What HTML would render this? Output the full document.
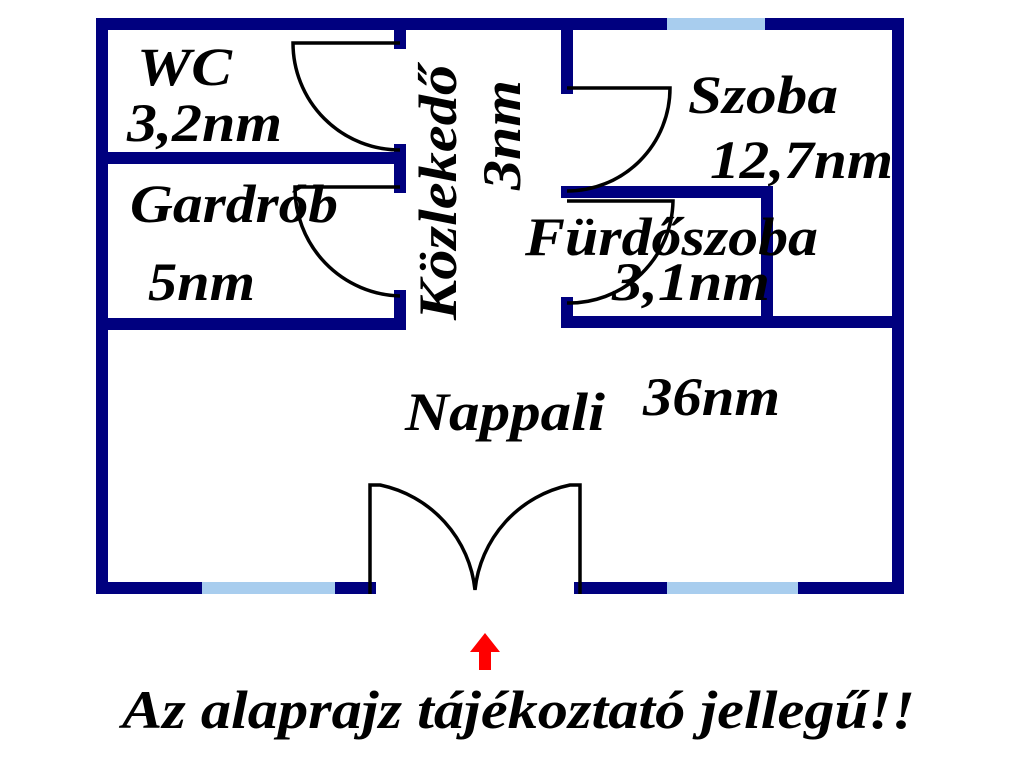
<!DOCTYPE html>
<html><head><meta charset="utf-8"><style>
html,body{margin:0;padding:0;background:#fff;width:1024px;height:768px;overflow:hidden}
text{font-family:"Liberation Serif",serif;font-weight:bold;font-style:italic;fill:#000}
</style></head><body>
<svg width="1024" height="768" viewBox="0 0 1024 768" xmlns="http://www.w3.org/2000/svg">
<g stroke="#00007f" stroke-width="12" fill="none" stroke-linecap="square">
<path d="M370 588 H102 V24 H898 V588 H580"/>
<line x1="102" y1="158" x2="400" y2="158"/>
<line x1="102" y1="324" x2="400" y2="324"/>
<line x1="400" y1="24" x2="400" y2="43"/>
<line x1="400" y1="150" x2="400" y2="187"/>
<line x1="400" y1="296" x2="400" y2="324"/>
<line x1="567" y1="24" x2="567" y2="88"/>
<line x1="567" y1="192" x2="767" y2="192"/>
<line x1="767" y1="192" x2="767" y2="322"/>
<line x1="567" y1="303" x2="567" y2="322"/>
<line x1="567" y1="322" x2="898" y2="322"/>
</g>
<rect x="667" y="18" width="98" height="12" fill="#a8cdee"/>
<rect x="202" y="582" width="133" height="12" fill="#a8cdee"/>
<rect x="667" y="582" width="131" height="12" fill="#a8cdee"/>
<g stroke="#000" stroke-width="3.5" fill="none">
<path d="M400 43 H293 A107 107 0 0 0 400 150"/>
<path d="M400 187 H295 A108 108 0 0 0 400 296"/>
<path d="M567 88 H670 A103 103 0 0 1 567 191"/>
<path d="M567 201 H673 A104 104 0 0 1 567 303"/>
<path d="M370 594 V485 H380 A120 120 0 0 1 475 590 A120 120 0 0 1 570 485 H580 V594"/>
</g>
<text x="137" y="85" font-size="54" textLength="95" lengthAdjust="spacingAndGlyphs">WC</text>
<text x="127" y="141" font-size="54" textLength="155" lengthAdjust="spacingAndGlyphs">3,2nm</text>
<text x="130" y="222" font-size="54" textLength="208" lengthAdjust="spacingAndGlyphs">Gardrób</text>
<text x="148" y="300" font-size="54" textLength="107" lengthAdjust="spacingAndGlyphs">5nm</text>
<text transform="translate(456,320) rotate(-90)" font-size="54" textLength="255" lengthAdjust="spacingAndGlyphs">Közlekedő</text>
<text transform="translate(520,190) rotate(-90)" font-size="54" textLength="110" lengthAdjust="spacingAndGlyphs">3nm</text>
<text x="688" y="113" font-size="54" textLength="150" lengthAdjust="spacingAndGlyphs">Szoba</text>
<text x="710" y="178" font-size="54" textLength="183" lengthAdjust="spacingAndGlyphs">12,7nm</text>
<text x="525" y="255" font-size="54" textLength="293" lengthAdjust="spacingAndGlyphs">Fürdőszoba</text>
<text x="612" y="300" font-size="54" textLength="158" lengthAdjust="spacingAndGlyphs">3,1nm</text>
<text x="405" y="430" font-size="54" textLength="200" lengthAdjust="spacingAndGlyphs">Nappali</text>
<text x="643" y="415" font-size="54" textLength="137" lengthAdjust="spacingAndGlyphs">36nm</text>
<path d="M485 633 L500 652 L491 652 L491 670 L479 670 L479 652 L470 652 Z" fill="#f00"/>
<text x="122" y="728" font-size="54" textLength="793" lengthAdjust="spacingAndGlyphs">Az alaprajz tájékoztató jellegű!!</text>
</svg>
</body></html>
